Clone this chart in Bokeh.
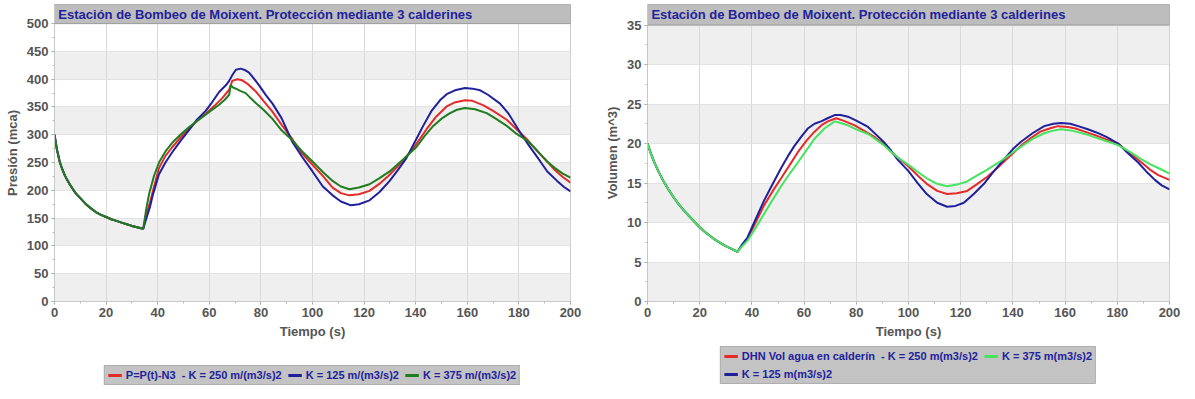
from bokeh.plotting import figure
from bokeh.models import Range1d, FixedTicker, Legend, LegendItem
from bokeh.core.properties import value
from bokeh.layouts import gridplot
from bokeh.embed import file_html
from bokeh.resources import INLINE

TITLE = "Estación de Bombeo de Moixent. Protección mediante 3 calderines"
FONT = "Liberation Sans"

# ---------------- data: pressure chart ----------------
decay_t = [0, 1, 2, 3, 4, 5, 6, 8, 10, 12, 14, 16, 18, 20, 22, 24, 26, 28, 30, 32, 34.4]
decay_p = [300, 272, 252, 238, 227, 218, 210, 196, 186, 176, 168, 161, 156, 152, 148, 145, 142, 139, 136, 133.5, 131]

p250_t = [35.5, 37, 38.5, 40.5, 43, 45.7, 49, 52.2, 55, 58.6, 62, 65, 67.7, 68.9, 70.9, 72.8, 75, 78, 81, 84.4,
          88, 92.2, 96, 100, 104, 107.8, 111, 114.3, 118, 122.1, 126, 129.9, 134, 139, 144.2, 148, 152, 155,
          159.1, 162, 166.3, 170, 175.3, 180, 183.1, 187, 190.9, 194, 197, 200]
p250_v = [155, 178, 205, 240, 262, 278, 296, 311, 324, 338, 352, 366, 381, 397, 400, 398, 391, 378, 361, 342,
          318, 292, 266, 246, 226, 205, 195, 191, 193, 199, 212, 228, 248, 275, 310, 333, 351, 358,
          362, 361, 353, 343, 327, 306, 292, 271, 252, 236, 224, 214]

p125_t = [35.5, 37, 38, 40.5, 43, 45.7, 49, 52.2, 55, 58.6, 61, 63.8, 66.4, 67.7, 69, 70.3, 72.2, 74, 75.4, 77,
          79.3, 82, 84.5, 88, 92.2, 96, 100, 104, 107.8, 111, 114.9, 118, 122.1, 126, 129.9, 133, 136.4, 140,
          142.9, 146, 149.4, 152, 155.2, 159.1, 162, 165, 168, 172.7, 176, 180.5, 184, 188.3, 191, 194.8,
          197.5, 200]
p125_v = [148, 170, 190, 229, 250, 269, 290, 309, 326, 343, 358, 377, 389, 397, 408, 417, 419, 416, 412, 403,
          389, 371, 356, 330, 287, 260, 234, 207, 191, 180, 173, 175, 182, 197, 217, 236, 258, 290,
          316, 342, 362, 373, 380, 384, 383, 380, 372, 356, 338, 304, 280, 252, 234, 217,
          206, 198]

p375_t = [35.5, 36.7, 38.5, 40.6, 43, 45.7, 49, 52.2, 55, 57.4, 60.5, 63.8, 66, 67.7, 68.3, 69.2, 70.3, 72,
          74.1, 76, 78, 81, 84.4, 88, 92.2, 96, 100, 104, 107.8, 111, 114.3, 118, 122.1, 126, 129.9, 135,
          140.3, 143.5, 146.8, 150, 153.3, 156, 159.1, 163, 167.5, 171, 175.3, 179, 183.1, 187, 190.9, 194,
          197, 200]
p375_v = [165, 194, 225, 251, 270, 286, 301, 314, 324, 332, 343, 354, 363, 372, 389, 385, 383, 379,
          375, 366, 357, 345, 329, 308, 290, 270, 252, 233, 217, 207, 202, 205, 211, 222, 234, 255,
          278, 298, 316, 329, 339, 345, 348, 346, 339, 329, 316, 302, 290, 272, 252, 240,
          230, 223]

# ---------------- data: volume chart ----------------
vdecay_t = [0, 1, 2.5, 4, 6, 8, 10, 12, 14, 16, 18, 20, 22, 24, 26, 28, 30, 32, 34.5]
vdecay_v = [20, 19.0, 17.7, 16.6, 15.3, 14.2, 13.2, 12.3, 11.5, 10.8, 10.1, 9.4, 8.8, 8.3, 7.8, 7.4, 7.0, 6.7, 6.3]

v250_t = [36, 38.3, 41, 44.7, 48, 51.2, 54.5, 57.6, 61, 64, 67, 69.1, 72.3, 75, 79.4, 83, 87.1, 90.5, 92.9, 96,
          100, 104, 107, 111, 114.8, 118.5, 122.5, 126, 130.2, 135, 139.2, 143, 146.9, 150.5, 154, 157.2, 161,
          164, 167.5, 172, 176, 180.3, 184, 189.3, 192.5, 195.7, 200]
v250_v = [7.0, 7.9, 9.7, 12.2, 14.0, 15.6, 17.3, 18.9, 20.4, 21.5, 22.4, 22.8, 23.2, 22.9, 22.3, 21.6, 20.8, 19.9, 19.1, 18.2,
          17.1, 15.8, 14.9, 14.0, 13.6, 13.7, 14.0, 14.8, 15.8, 17.2, 18.5, 19.7, 20.7, 21.5, 21.9, 22.2, 22.1,
          21.9, 21.5, 21.0, 20.5, 20.0, 19.0, 17.6, 16.7, 16.0, 15.4]

v375_t = [36, 38.3, 41, 44.7, 48, 51.2, 54.5, 57.6, 61, 64, 67.8, 71.7, 74, 76.8, 80, 84.5, 88, 90.5, 92.9, 96,
          100, 104, 107, 111, 114.8, 118.5, 122.5, 126, 130.2, 135, 139.2, 144, 148.2, 152, 155, 158.5, 163,
          168.7, 174, 180.3, 185, 189.3, 192.5, 195.7, 200]
v375_v = [6.9, 7.7, 9.1, 11.1, 12.9, 14.6, 16.2, 17.6, 19.2, 20.6, 21.9, 22.8, 22.6, 22.3, 21.8, 21.2, 20.4, 19.8, 19.1, 18.2,
          17.3, 16.3, 15.6, 14.9, 14.6, 14.8, 15.2, 15.9, 16.7, 17.7, 18.7, 19.8, 20.7, 21.3, 21.6, 21.8, 21.6,
          21.1, 20.5, 19.8, 18.9, 18.0, 17.4, 16.9, 16.2]

v125_t = [36, 38.3, 41, 44.7, 48, 51.2, 53.8, 56.3, 59, 61.4, 64, 66.5, 69, 71.7, 74, 76.8, 80, 84.5, 88, 90.5,
          92.9, 96, 100, 103.5, 107, 111, 114.8, 118, 121.2, 125, 128.9, 132.5, 136.6, 140, 143, 147.5, 152,
          155.5, 158.5, 162, 165, 168.7, 172, 176, 180.3, 184, 188, 191, 194.4, 197, 200]
v125_v = [7.1, 8.1, 10.1, 12.8, 14.9, 16.9, 18.4, 19.7, 20.9, 21.9, 22.5, 22.8, 23.2, 23.6, 23.6, 23.4, 22.9, 22.1, 21.0, 20.2,
          19.3, 17.9, 16.5, 15.0, 13.6, 12.5, 12.0, 12.1, 12.5, 13.6, 14.9, 16.4, 18.0, 19.3, 20.2, 21.3, 22.2,
          22.5, 22.6, 22.5, 22.2, 21.8, 21.4, 20.8, 20.0, 18.8, 17.6, 16.5, 15.4, 14.7, 14.2]

X_TICKS = list(range(0, 201, 20))
X_MINOR = list(range(0, 201, 10))
P_TICKS = list(range(0, 501, 50))
P_MINOR = [v / 2 for v in range(0, 1001, 50)]
V_TICKS = list(range(0, 36, 5))
V_MINOR = [v / 2 for v in range(0, 71, 5)]

LEG_LEFT = ["P=P(t)-N3  - K = 250 m/(m3/s)2", "K = 125 m/(m3/s)2", "K = 375 m/(m3/s)2"]
LEG_RIGHT = ["DHN Vol agua en calderín  - K = 250 m(m3/s)2", "K = 375 m(m3/s)2", "K = 125 m(m3/s)2"]

RED = "#e52a2a"
BLUE = "#20209c"
GREEN_D = "#1f7d1f"
GREEN_L = "#45e45e"
TXT_BLUE = "#22229c"
TICK_COL = "#555555"


def make_fig(width, height, y_ticks, y_minor, y_end, ylabel, mb_left, mb_right, mb_bottom):
    p = figure(width=width, height=height, output_backend="svg", toolbar_location=None,
               x_range=Range1d(0, 200), y_range=Range1d(0, y_end),
               min_border_left=mb_left, min_border_right=mb_right, min_border_top=4,
               min_border_bottom=mb_bottom)
    p.xaxis.ticker = FixedTicker(ticks=X_TICKS, minor_ticks=X_MINOR)
    p.yaxis.ticker = FixedTicker(ticks=y_ticks, minor_ticks=y_minor)
    for ax in (p.xaxis[0], p.yaxis[0]):
        ax.major_label_text_font = FONT
        ax.major_label_text_font_size = "13px"
        ax.major_label_text_font_style = "bold"
        ax.major_label_text_color = TICK_COL
        ax.axis_label_text_font = FONT
        ax.axis_label_text_font_size = "13px"
        ax.axis_label_text_font_style = "bold"
        ax.axis_label_text_color = TICK_COL
        ax.axis_line_color = "#c8c8c8"
        ax.major_tick_line_color = "#999999"
        ax.minor_tick_line_color = "#bbbbbb"
        ax.major_tick_out = 3
        ax.major_tick_in = 0
        ax.minor_tick_out = 2
        ax.minor_tick_in = 0
        ax.major_label_standoff = 3
        ax.axis_label_standoff = 4
    p.xaxis.axis_label = "Tiempo (s)"
    p.yaxis.axis_label = ylabel
    p.xgrid.ticker = FixedTicker(ticks=X_TICKS)
    p.ygrid.ticker = FixedTicker(ticks=y_ticks)
    p.xgrid.grid_line_color = "#d9d9d9"
    p.ygrid.grid_line_color = "#e2e2e2"
    p.outline_line_color = "#c8c8c8"
    p.background_fill_color = "white"
    # alternating bands between ticks
    bot = [y_ticks[i] for i in range(0, len(y_ticks) - 1, 2)]
    top = [y_ticks[i + 1] for i in range(0, len(y_ticks) - 1, 2)]
    p.quad(left=0, right=200, bottom=bot, top=top, fill_color="#efefef", line_color=None, level="underlay")
    return p


def add_title_bar(p, y_ticks, y_end):
    top_tick = y_ticks[-1]
    p.quad(left=[0], right=[200], bottom=[top_tick], top=[y_end], fill_color="#bdbdbd",
           line_color="#9c9c9c", line_width=1)
    p.text(x=[1.5], y=[(top_tick + y_end) / 2], text=[TITLE], text_baseline="middle",
           text_font=value(FONT), text_font_size="13px", text_font_style="bold",
           text_color=TXT_BLUE)


def legend_fig(width, height, y_lo):
    # a strip that only holds the legend: its range lies below the data, so the
    # proxy lines (same data as the chart) are not drawn in it
    f = figure(width=width, height=height, output_backend="svg", toolbar_location=None,
               x_range=Range1d(0, 200), y_range=Range1d(y_lo - 2, y_lo - 1),
               x_axis_location=None, y_axis_location=None, min_border=0)
    f.grid.visible = False
    f.outline_line_color = None
    return f


def style_legend(leg, loc):
    leg.location = loc
    leg.orientation = "horizontal"
    leg.background_fill_color = "#c3c3c3"
    leg.background_fill_alpha = 1.0
    leg.border_line_color = "#9a9a9a"
    leg.label_text_font = FONT
    leg.label_text_font_size = "11px"
    leg.label_text_font_style = "bold"
    leg.label_text_color = TXT_BLUE
    leg.glyph_width = 14
    leg.glyph_height = 8
    leg.label_standoff = 4
    leg.spacing = 6
    leg.padding = 3
    leg.margin = 2


# ---------------- left chart ----------------
p1 = make_fig(590, 343, P_TICKS, P_MINOR, 534.4, "Presión (mca)", 54, 20, 42)
p1.line(decay_t + p250_t, decay_p + p250_v, line_color=RED, line_width=2)
p1.line(decay_t + p125_t, decay_p + p125_v, line_color=BLUE, line_width=2)
p1.line(decay_t + p375_t, decay_p + p375_v, line_color=GREEN_D, line_width=2)
add_title_bar(p1, P_TICKS, 534.4)

l1 = legend_fig(590, 44, P_TICKS[0])
e_red = l1.line(decay_t + p250_t, decay_p + p250_v, line_color=RED, line_width=3)
e_blue = l1.line(decay_t + p125_t, decay_p + p125_v, line_color=BLUE, line_width=3)
e_green = l1.line(decay_t + p375_t, decay_p + p375_v, line_color=GREEN_D, line_width=3)
leg1 = Legend(items=[LegendItem(label=LEG_LEFT[0], renderers=[e_red]),
                     LegendItem(label=LEG_LEFT[1], renderers=[e_blue]),
                     LegendItem(label=LEG_LEFT[2], renderers=[e_green])])
style_legend(leg1, "bottom_center")
l1.add_layout(leg1)

# ---------------- right chart ----------------
p2 = make_fig(591, 343, V_TICKS, V_MINOR, 37.6, "Volumen (m^3)", 57, 12, 42)
p2.line(vdecay_t + v250_t, vdecay_v + v250_v, line_color=RED, line_width=2)
p2.line(vdecay_t + v125_t, vdecay_v + v125_v, line_color=BLUE, line_width=2)
p2.line(vdecay_t + v375_t, vdecay_v + v375_v, line_color=GREEN_L, line_width=2)
add_title_bar(p2, V_TICKS, 37.6)

l2 = legend_fig(591, 44, V_TICKS[0])
f_red = l2.line(vdecay_t + v250_t, vdecay_v + v250_v, line_color=RED, line_width=3)
f_green = l2.line(vdecay_t + v375_t, vdecay_v + v375_v, line_color=GREEN_L, line_width=3)
f_blue = l2.line(vdecay_t + v125_t, vdecay_v + v125_v, line_color=BLUE, line_width=3)
leg2 = Legend(items=[LegendItem(label=LEG_RIGHT[0], renderers=[f_red]),
                     LegendItem(label=LEG_RIGHT[1], renderers=[f_green]),
                     LegendItem(label=LEG_RIGHT[2], renderers=[f_blue])], ncols=2)
style_legend(leg2, "center")
l2.add_layout(leg2)

layout = gridplot([[p1, p2], [l1, l2]], toolbar_location=None)
open("out.html", "w").write(file_html(layout, INLINE))
